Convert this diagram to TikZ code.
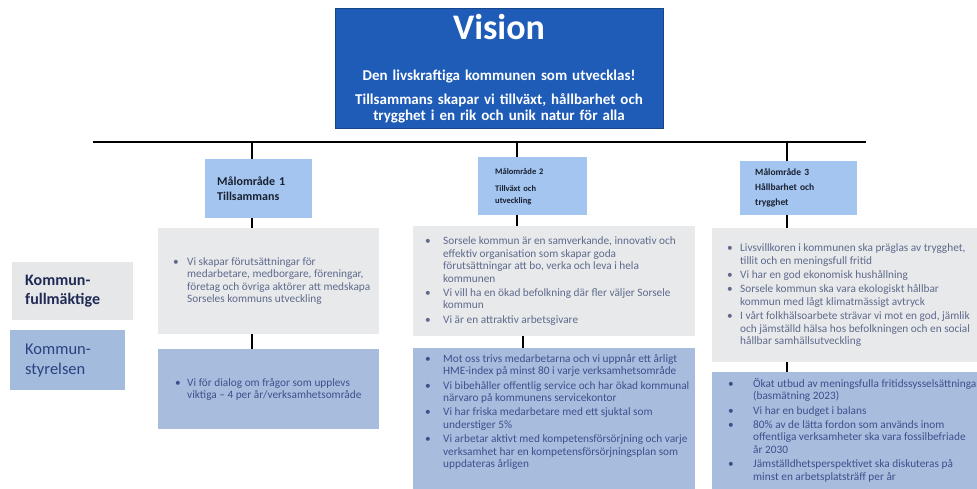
\documentclass[tikz,border=0pt]{standalone}
\usepackage{fontspec}
\setmainfont{Carlito}
\usetikzlibrary{positioning}

\definecolor{visionbla}{HTML}{1E5CB8}
\definecolor{malbla}{HTML}{A3C5F0}
\definecolor{ovregra}{HTML}{E8E9EB}
\definecolor{nedrebla}{HTML}{A8BDDE}
\definecolor{kfgra}{HTML}{E6E7E9}
\definecolor{ksbla}{HTML}{A3BCDD}
\definecolor{ovretext}{HTML}{5F6A8C}
\definecolor{nedretext}{HTML}{3C508C}
\definecolor{maltext}{HTML}{1A2030}
\definecolor{kftext}{HTML}{1F2A55}
\definecolor{kstext}{HTML}{2B4080}

% punkt med hängande indrag
\newcommand\punkt[2][14pt]{\par\hangindent=#1\hangafter=1\noindent\makebox[#1][l]{\textbullet}#2}
% innehåll i en ruta: vänstermarginal, höjd, läge, bredd, text
\newcommand\rutatext[5]{\parbox[c][#2][#3]{#4}{\raggedright\leftskip=#1\relax\setlength\parskip{2pt}#5}}

\begin{document}
\begin{tikzpicture}[x=1pt,y=-1pt,
  vision/.style={fill=visionbla,draw=visionbla!75!black,anchor=north west,inner sep=0pt,minimum width=328pt,minimum height=120pt},
  visiontext/.style={text=white,align=center,inner sep=0pt},
  malruta/.style={fill=malbla,anchor=north west,align=left,text=maltext,inner ysep=0pt},
  ovre/.style={fill=ovregra,anchor=north west,inner sep=0pt,text=ovretext,font=\fontsize{11.3}{12.4}\selectfont},
  nedre/.style={ovre,fill=nedrebla,text=nedretext},
  etikett/.style={anchor=north west,align=left,inner ysep=0pt},
  stam/.style={line width=1.8pt},
  lin/.style={line width=2.2pt}
]
\useasboundingbox (0,0) rectangle (977,488);
\clip (0,0) rectangle (977,488);

% vision
\node[vision] (vision) at (335,8) {};
\node[visiontext,font=\bfseries\fontsize{36}{40}\selectfont,anchor=base] (visionrubrik) at (499,39) {Vision};
\node[visiontext,font=\bfseries\fontsize{15}{15.5}\selectfont,text width=320pt,anchor=base] (visionmal) at (499,80)
  {Den livskraftiga kommunen som utvecklas!\\[9pt]Tillsammans skapar vi tillväxt, hållbarhet och\\trygghet i en rik och unik natur för alla};

\coordinate (stamV) at (93,142);
\coordinate (stamH) at (866,142);
\draw[stam] (stamV) -- (stamH);

% målområden
\node[malruta,text width=83pt,inner xsep=12pt,minimum height=59pt,font=\bfseries\fontsize{12}{15}\selectfont] (mal1) at (205,159) {Målområde 1\\Tillsammans};
\node[malruta,text width=75pt,inner xsep=17pt,minimum height=58pt,font=\bfseries\fontsize{8.5}{12}\selectfont] (mal2) at (478,157) {Målområde 2\\[5pt]Tillväxt och\\utveckling};
\node[malruta,text width=87pt,inner xsep=15pt,minimum height=54pt,font=\bfseries\fontsize{9.5}{15}\selectfont] (mal3) at (740,161) {Målområde 3\\Hållbarhet och\\trygghet};

% kommunfullmäktige och kommunstyrelsen
\node[etikett,fill=kfgra,text=kftext,minimum height=58pt,text width=95pt,inner xsep=13pt,font=\bfseries\fontsize{16}{19}\selectfont] (kf) at (12,262) {Kommun-\\fullmäktige};
\node[etikett,fill=ksbla,text=kstext,minimum height=60pt,text width=85pt,inner xsep=15pt,font=\fontsize{16.5}{20}\selectfont] (ks) at (10,330) {Kommun-\\styrelsen};

% område 1
\node[ovre] (m1kf) at (158,228) {\rutatext{15pt}{106pt}{c}{221pt}{%
  \punkt{Vi skapar förutsättningar för\newline medarbetare, medborgare, föreningar,\newline företag och övriga aktörer att medskapa\newline Sorseles kommuns utveckling}}};
\node[nedre] (m1ks) at (158,349) {\rutatext{17pt}{80pt}{c}{221pt}{%
  \punkt[12pt]{Vi för dialog om frågor som upplevs\newline viktiga – 4 per år/verksamhetsområde}}};

% område 2
\node[ovre] (m2kf) at (413,226) {\rutatext{12pt}{110pt}{c}{282pt}{%
  \punkt[18pt]{Sorsele kommun är en samverkande, innovativ och\newline effektiv organisation som skapar goda\newline förutsättningar att bo, verka och leva i hela\newline kommunen}%
  \punkt[18pt]{Vi vill ha en ökad befolkning där fler väljer Sorsele\newline kommun}%
  \punkt[18pt]{Vi är en attraktiv arbetsgivare}}};
\node[nedre] (m2ks) at (413,348) {\rutatext{12pt}{150pt}{t}{282pt}{\vspace*{4pt}%
  \punkt[18pt]{Mot oss trivs medarbetarna och vi uppnår ett årligt\newline HME-index på minst 80 i varje verksamhetsområde}%
  \punkt[18pt]{Vi bibehåller offentlig service och har ökad kommunal\newline närvaro på kommunens servicekontor}%
  \punkt[18pt]{Vi har friska medarbetare med ett sjuktal som\newline understiger 5\%}%
  \punkt[18pt]{Vi arbetar aktivt med kompetensförsörjning och varje\newline verksamhet har en kompetensförsörjningsplan som\newline uppdateras årligen}}};

% område 3
\node[ovre] (m3kf) at (712,228) {\rutatext{15pt}{134pt}{c}{290pt}{%
  \punkt[13pt]{Livsvillkoren i kommunen ska präglas av trygghet,\newline tillit och en meningsfull fritid}%
  \punkt[13pt]{Vi har en god ekonomisk hushållning}%
  \punkt[13pt]{Sorsele kommun ska vara ekologiskt hållbar\newline kommun med lågt klimatmässigt avtryck}%
  \punkt[13pt]{I vårt folkhälsoarbete strävar vi mot en god, jämlik\newline och jämställd hälsa hos befolkningen och en social\newline hållbar samhällsutveckling}}};
\node[nedre] (m3ks) at (712,372) {\rutatext{16pt}{130pt}{t}{290pt}{\vspace*{4pt}%
  \punkt[25pt]{Ökat utbud av meningsfulla fritidssysselsättningar\newline (basmätning 2023)}%
  \punkt[25pt]{Vi har en budget i balans}%
  \punkt[25pt]{80\% av de lätta fordon som används inom\newline offentliga verksamheter ska vara fossilbefriade\newline år 2030}%
  \punkt[25pt]{Jämställdhetsperspektivet ska diskuteras på\newline minst en arbetsplatsträff per år}}};

% streck mellan rutorna
\foreach \k/\xa/\xb in {1/252/252,2/517/523,3/787/787} {
  \coordinate (xa\k) at (\xa,0);
  \coordinate (xb\k) at (\xb,0);
  \draw[lin] (xa\k |- stamV) -- (xa\k |- mal\k.north);
  \draw[lin] (xa\k |- mal\k.south) -- (xa\k |- m\k kf.north);
  \draw[lin] (xb\k |- m\k kf.south) -- (xb\k |- m\k ks.north);
}
\end{tikzpicture}
\end{document}
